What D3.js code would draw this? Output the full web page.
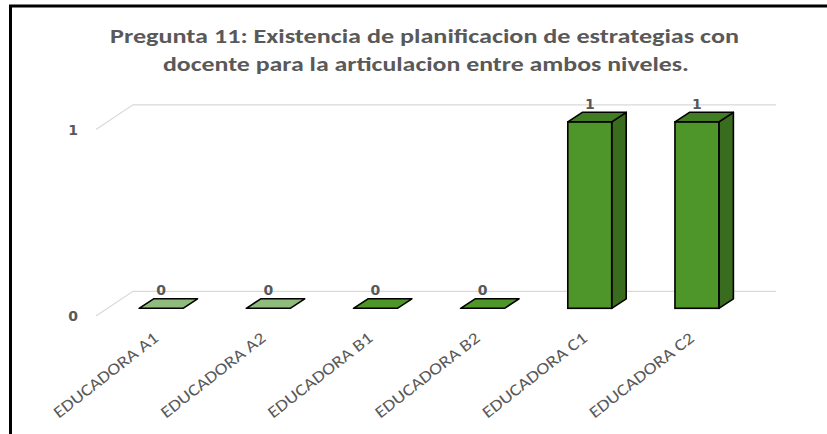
<!DOCTYPE html>
<html>
<head>
<meta charset="utf-8">
<script src="https://cdn.jsdelivr.net/npm/d3@7"></script>
<style>
  body { margin: 0; background: #fff; }
  svg { display: block; }
</style>
</head>
<body>
<div id="viz"></div>
<script>
// datos - data
var categories = ['EDUCADORA A1', 'EDUCADORA A2', 'EDUCADORA B1', 'EDUCADORA B2', 'EDUCADORA C1', 'EDUCADORA C2'];
var values = [0, 0, 0, 0, 1, 1];
var groups = ['A', 'A', 'B', 'B', 'C', 'C'];
var yTicks = [0, 1];
var titleLines = ['Pregunta 11: Existencia de  planificacion de estrategias con',
                  'docente para la articulacion entre ambos niveles.'];

var width = 827, height = 434;
var grey = '#595959';
var font = "Carlito, 'Liberation Sans Narrow', 'Liberation Sans', Arial, sans-serif";
var numFont = "'DejaVu Sans', Verdana, sans-serif";

var svg = d3.select('#viz')
  .append('svg')
  .attr('width', width)
  .attr('height', height);

// marco - frame (top and left only)
svg.append('path')
  .attr('d', 'M10.5,' + height + ' V6 H' + width)
  .attr('fill', 'none')
  .attr('stroke', '#000')
  .attr('stroke-width', 3);

// titulo
svg.selectAll('text.title')
  .data(titleLines)
  .enter()
  .append('text')
  .attr('class', 'title')
  .attr('x', function(d, i){ return i === 0 ? 424.5 : 426; })
  .attr('y', function(d, i){ return 43 + i * 28; })
  .attr('text-anchor', 'middle')
  .attr('textLength', function(d, i){ return i === 0 ? 629 : 526; })
  .attr('lengthAdjust', 'spacingAndGlyphs')
  .attr('fill', grey)
  .attr('font-family', font)
  .attr('font-size', '21px')
  .attr('font-weight', 'bold')
  .text(function(d){ return d; });

// escalas - scales on the front plane (depth 0)
var x = d3.scaleBand()
  .domain(categories)
  .range([96, 739])
  .paddingInner(0.59)
  .paddingOuter(0.295);

var y = d3.scaleLinear()
  .domain([0, 1])
  .range([316, 129.5]);

var color = d3.scaleOrdinal()
  .domain(['A', 'B', 'C'])
  .range(['#8fbb7c', '#4e952a', '#4e952a']);

// profundidad - 3d offsets
var wall = {dx: 37, dy: -24.7};   // back wall
var front = {dx: 11.5, dy: -7.7}; // bar front face
var depth = {dx: 14.5, dy: -9.5}; // bar depth

// lineas de grilla
var grid = svg.append('g');
yTicks.forEach(function(t){
  var y0 = y(t);
  grid.append('path')
    .attr('d', 'M' + x.range()[0] + ',' + y0 +
               ' L' + (x.range()[0] + wall.dx) + ',' + (y0 + wall.dy) +
               ' H' + (x.range()[1] + wall.dx))
    .attr('fill', 'none')
    .attr('stroke', '#d9d9d9')
    .attr('stroke-width', 1.2);
});

svg.append('g')
  .selectAll('text')
  .data(yTicks)
  .enter()
  .append('text')
  .attr('x', 73)
  .attr('y', function(d){ return y(d) + 5; })
  .attr('text-anchor', 'middle')
  .attr('fill', grey)
  .attr('font-family', numFont)
  .attr('font-size', '14px')
  .attr('font-weight', 'bold')
  .text(function(d){ return d; });

// barras
var bw = x.bandwidth();
var bars = svg.append('g')
  .selectAll('g')
  .data(categories)
  .enter()
  .append('g');

function pts(p){ return p.map(function(q){ return q.join(','); }).join(' '); }

bars.each(function(c, i){
  var g = d3.select(this);
  var base = d3.color(color(groups[i]));
  var x0 = x(c) + front.dx, x1 = x0 + bw;
  var yT = y(values[i]) + front.dy, yB = y(0) + front.dy;

  if (values[i] > 0) {
    g.append('polygon')
      .attr('points', pts([[x1, yT], [x1 + depth.dx, yT + depth.dy], [x1 + depth.dx, yB + depth.dy], [x1, yB]]))
      .attr('fill', base.darker(0.9))
      .attr('stroke', '#000').attr('stroke-width', 1.6).attr('stroke-linejoin', 'round');
    g.append('rect')
      .attr('x', x0).attr('y', yT)
      .attr('width', bw).attr('height', yB - yT)
      .attr('fill', base)
      .attr('stroke', '#000').attr('stroke-width', 1.6);
  }
  g.append('polygon')
    .attr('points', pts([[x0, yT], [x1, yT], [x1 + depth.dx, yT + depth.dy], [x0 + depth.dx, yT + depth.dy]]))
    .attr('fill', values[i] > 0 ? base.darker(0.5) : base)
    .attr('stroke', '#000').attr('stroke-width', 1.6).attr('stroke-linejoin', 'round');

  // etiqueta de valor
  g.append('text')
    .attr('x', x0 + bw / 2)
    .attr('y', yT + depth.dy - 3.5)
    .attr('text-anchor', 'middle')
    .attr('fill', grey)
    .attr('font-family', numFont)
    .attr('font-size', '14px')
    .attr('font-weight', 'bold')
    .text(values[i]);

  // etiqueta de categoria
  var lx = x0 + bw / 2 - 1.5, ly = 340;
  g.append('text')
    .attr('transform', 'translate(' + lx + ',' + ly + ') rotate(-38)')
    .attr('text-anchor', 'end')
    .attr('textLength', 128)
    .attr('lengthAdjust', 'spacingAndGlyphs')
    .attr('fill', grey)
    .attr('font-family', font)
    .attr('font-size', '16.5px')
    .text(c);
});
</script>
</body>
</html>
